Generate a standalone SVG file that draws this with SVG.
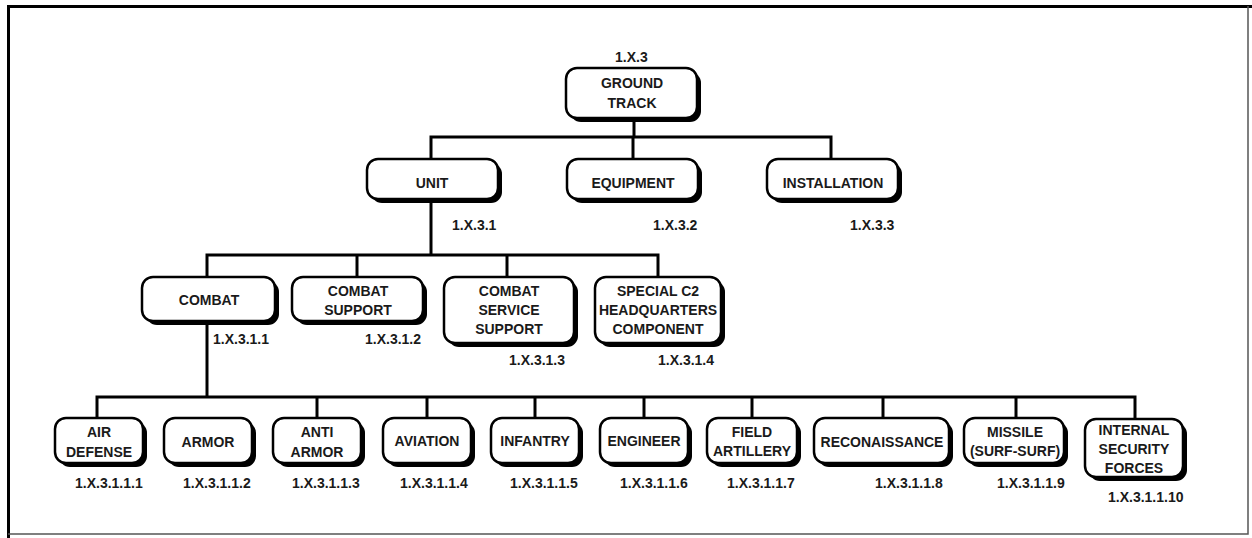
<svg xmlns="http://www.w3.org/2000/svg" width="1252" height="538" viewBox="0 0 1252 538">
  <style>
    .sh { fill: #000; }
    .bx { fill: #fff; stroke: #000; stroke-width: 2.5; }
    .t { font-family: "Liberation Sans", Arial, sans-serif; font-weight: bold; font-size: 14px; fill: #1a1a1a; text-anchor: middle; }
    .id { font-family: "Liberation Sans", Arial, sans-serif; font-weight: bold; font-size: 14px; fill: #1a1a1a; }
    .ln { fill: none; stroke: #000; stroke-width: 3; }
  </style>

  <!-- page frame -->
  <rect x="0" y="0" width="1252" height="538" fill="#fff"/>
  <path d="M8.5 538 V6.5 H1252" fill="none" stroke="#000" stroke-width="3"/>
  <path d="M1248 6 V534 H8" fill="none" stroke="#555" stroke-width="1.5"/>

  <!-- connectors -->
  <g id="connectors" class="ln">
    <path d="M634 120 V137"/>
    <path d="M431 159 V137 H831 V159"/>
    <path d="M633 137 V159"/>
    <path d="M431 200 V255"/>
    <path d="M207 276 V255 H658 V276"/>
    <path d="M357 255 V276"/>
    <path d="M507 255 V276"/>
    <path d="M207 321 V397"/>
    <path d="M97 418 V397 H1135 V418"/>
    <path d="M317 397 V418"/>
    <path d="M427 397 V418"/>
    <path d="M535 397 V418"/>
    <path d="M644 397 V418"/>
    <path d="M752 397 V418"/>
    <path d="M883 397 V418"/>
    <path d="M1016 397 V418"/>
  </g>

  <!-- level 1 -->
  <g id="ground-track">
    <text class="id" x="615" y="62">1.X.3</text>
    <rect class="sh" x="570" y="72" width="131" height="50" rx="11"/>
    <rect class="bx" x="566" y="68" width="131" height="50" rx="11"/>
    <text class="t" x="632" y="88">GROUND</text>
    <text class="t" x="632" y="108">TRACK</text>
  </g>

  <!-- level 2 -->
  <g id="unit">
    <rect class="sh" x="371" y="163" width="131" height="40" rx="11"/>
    <rect class="bx" x="367" y="159" width="131" height="40" rx="11"/>
    <text class="t" x="432" y="188">UNIT</text>
    <text class="id" x="452" y="230">1.X.3.1</text>
  </g>
  <g id="equipment">
    <rect class="sh" x="571" y="163" width="131" height="40" rx="11"/>
    <rect class="bx" x="567" y="159" width="131" height="40" rx="11"/>
    <text class="t" x="633" y="188">EQUIPMENT</text>
    <text class="id" x="653" y="230">1.X.3.2</text>
  </g>
  <g id="installation">
    <rect class="sh" x="771" y="163" width="131" height="40" rx="11"/>
    <rect class="bx" x="767" y="159" width="131" height="40" rx="11"/>
    <text class="t" x="833" y="188">INSTALLATION</text>
    <text class="id" x="850" y="230">1.X.3.3</text>
  </g>

  <!-- level 3 -->
  <g id="combat">
    <rect class="sh" x="146" y="281" width="133" height="44" rx="11"/>
    <rect class="bx" x="142" y="277" width="133" height="44" rx="11"/>
    <text class="t" x="209" y="305">COMBAT</text>
    <text class="id" x="213" y="344">1.X.3.1.1</text>
  </g>
  <g id="combat-support">
    <rect class="sh" x="296" y="281" width="131" height="44" rx="11"/>
    <rect class="bx" x="292" y="277" width="131" height="44" rx="11"/>
    <text class="t" x="358" y="296">COMBAT</text>
    <text class="t" x="358" y="315">SUPPORT</text>
    <text class="id" x="365" y="344">1.X.3.1.2</text>
  </g>
  <g id="combat-service-support">
    <rect class="sh" x="448" y="281" width="130" height="66" rx="11"/>
    <rect class="bx" x="444" y="277" width="130" height="66" rx="11"/>
    <text class="t" x="509" y="296">COMBAT</text>
    <text class="t" x="509" y="315">SERVICE</text>
    <text class="t" x="509" y="334">SUPPORT</text>
    <text class="id" x="509" y="365">1.X.3.1.3</text>
  </g>
  <g id="special-c2">
    <rect class="sh" x="599" y="281" width="126" height="66" rx="11"/>
    <rect class="bx" x="595" y="277" width="126" height="66" rx="11"/>
    <text class="t" x="658" y="296">SPECIAL C2</text>
    <text class="t" x="658" y="315">HEADQUARTERS</text>
    <text class="t" x="658" y="334">COMPONENT</text>
    <text class="id" x="658" y="365">1.X.3.1.4</text>
  </g>

  <!-- level 4 -->
  <g id="air-defense">
    <rect class="sh" x="59" y="422" width="88" height="45" rx="11"/>
    <rect class="bx" x="55" y="418" width="88" height="45" rx="11"/>
    <text class="t" x="99" y="437">AIR</text>
    <text class="t" x="99" y="457">DEFENSE</text>
    <text class="id" x="75" y="488">1.X.3.1.1.1</text>
  </g>
  <g id="armor">
    <rect class="sh" x="168" y="422" width="88" height="45" rx="11"/>
    <rect class="bx" x="164" y="418" width="88" height="45" rx="11"/>
    <text class="t" x="208" y="447">ARMOR</text>
    <text class="id" x="183" y="488">1.X.3.1.1.2</text>
  </g>
  <g id="anti-armor">
    <rect class="sh" x="277" y="422" width="88" height="45" rx="11"/>
    <rect class="bx" x="273" y="418" width="88" height="45" rx="11"/>
    <text class="t" x="317" y="437">ANTI</text>
    <text class="t" x="317" y="457">ARMOR</text>
    <text class="id" x="292" y="488">1.X.3.1.1.3</text>
  </g>
  <g id="aviation">
    <rect class="sh" x="387" y="422" width="88" height="45" rx="11"/>
    <rect class="bx" x="383" y="418" width="88" height="45" rx="11"/>
    <text class="t" x="427" y="446">AVIATION</text>
    <text class="id" x="400" y="488">1.X.3.1.1.4</text>
  </g>
  <g id="infantry">
    <rect class="sh" x="495" y="422" width="88" height="45" rx="11"/>
    <rect class="bx" x="491" y="418" width="88" height="45" rx="11"/>
    <text class="t" x="535" y="446">INFANTRY</text>
    <text class="id" x="510" y="488">1.X.3.1.1.5</text>
  </g>
  <g id="engineer">
    <rect class="sh" x="604" y="422" width="88" height="45" rx="11"/>
    <rect class="bx" x="600" y="418" width="88" height="45" rx="11"/>
    <text class="t" x="644" y="446">ENGINEER</text>
    <text class="id" x="620" y="488">1.X.3.1.1.6</text>
  </g>
  <g id="field-artillery">
    <rect class="sh" x="711" y="422" width="90" height="45" rx="11"/>
    <rect class="bx" x="707" y="418" width="90" height="45" rx="11"/>
    <text class="t" x="752" y="437">FIELD</text>
    <text class="t" x="752" y="456">ARTILLERY</text>
    <text class="id" x="727" y="488">1.X.3.1.1.7</text>
  </g>
  <g id="reconaissance">
    <rect class="sh" x="818" y="422" width="135" height="45" rx="11"/>
    <rect class="bx" x="814" y="418" width="135" height="45" rx="11"/>
    <text class="t" x="882" y="447">RECONAISSANCE</text>
    <text class="id" x="875" y="488">1.X.3.1.1.8</text>
  </g>
  <g id="missile">
    <rect class="sh" x="968" y="422" width="100" height="45" rx="11"/>
    <rect class="bx" x="964" y="418" width="100" height="45" rx="11"/>
    <text class="t" x="1015" y="437">MISSILE</text>
    <text class="t" x="1015" y="456">(SURF-SURF)</text>
    <text class="id" x="997" y="488">1.X.3.1.1.9</text>
  </g>
  <g id="internal-security-forces">
    <rect class="sh" x="1089" y="423" width="98" height="58" rx="11"/>
    <rect class="bx" x="1085" y="419" width="98" height="58" rx="11"/>
    <text class="t" x="1134" y="435">INTERNAL</text>
    <text class="t" x="1134" y="454">SECURITY</text>
    <text class="t" x="1134" y="473">FORCES</text>
    <text class="id" x="1108" y="502">1.X.3.1.1.10</text>
  </g>
</svg>
